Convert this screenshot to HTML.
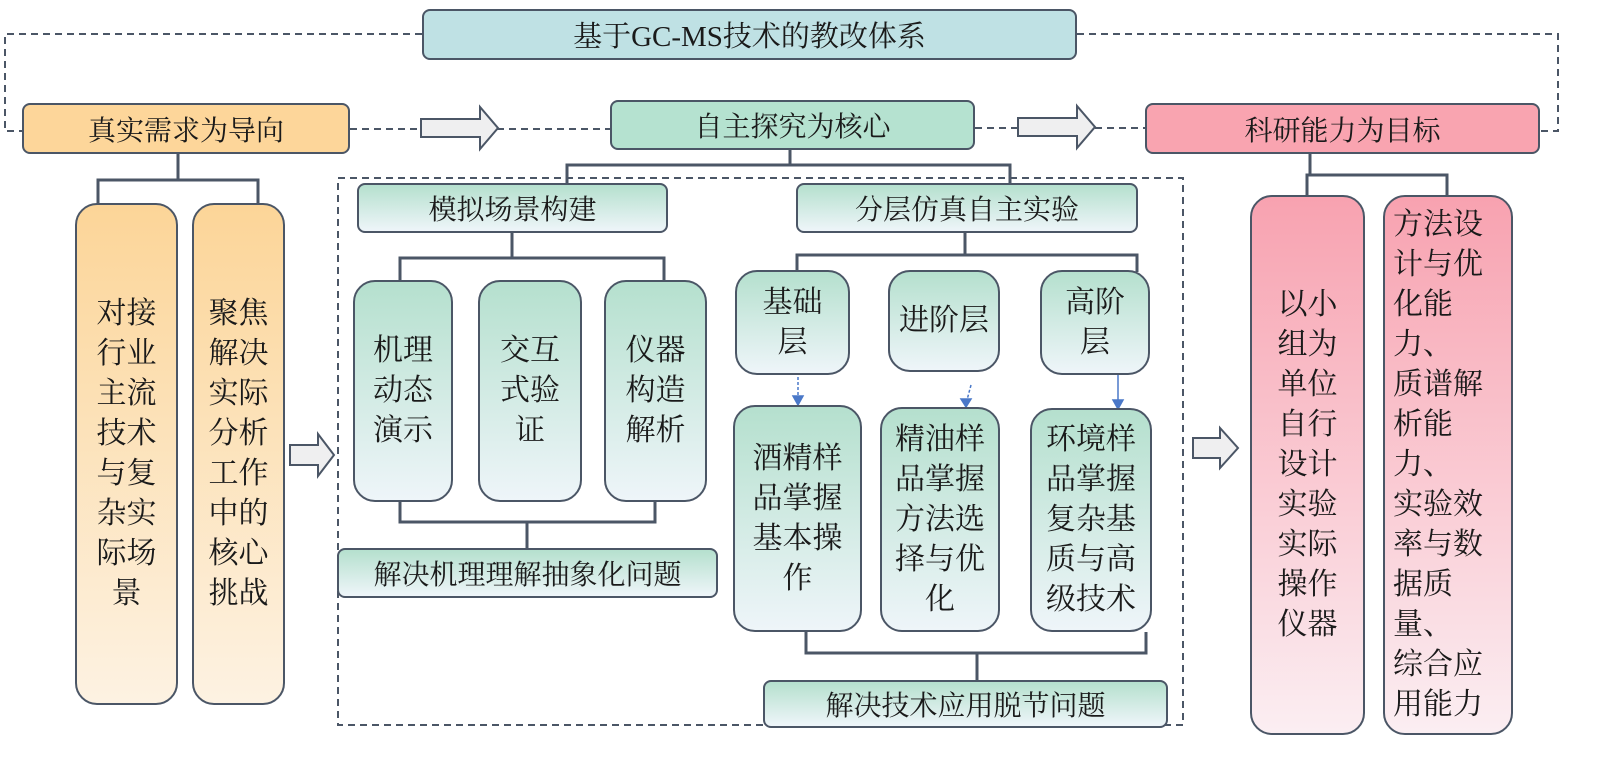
<!DOCTYPE html>
<html><head><meta charset="utf-8"><style>
body{margin:0;background:#fff;width:1600px;height:762px;position:relative;overflow:hidden;font-family:"Liberation Serif","Noto Serif CJK SC",serif;color:#1a1a1a}
.b{position:absolute;box-sizing:border-box;border:2px solid #4b5666;display:flex;align-items:center;justify-content:center;text-align:center}
.h{border-radius:8px;font-size:28px}
.t{border-radius:22px;font-size:30px;line-height:40px}
.o{background:linear-gradient(#fcd598,#fdf2e2)}
.g{background:linear-gradient(#b5e0ce,#eef5f9)}
.p{background:linear-gradient(#f8a2b0,#fbeef2)}
.oh{background:#fdd69a}.gh{background:#b5e2d0}.ph{background:#f9a4b0}
svg{position:absolute;left:0;top:0}
</style></head><body>
<svg width="1600" height="762">
<g fill="none" stroke="#4b5666" stroke-width="2" stroke-dasharray="7,5">
<polyline points="422,34 5,34 5,131 22,131"/>
<polyline points="1077,34 1558,34 1558,131 1540,131"/>
<line x1="350" y1="129" x2="420" y2="129"/><line x1="497" y1="129" x2="610" y2="129"/>
<line x1="975" y1="128" x2="1017" y2="128"/><line x1="1095" y1="128" x2="1145" y2="128"/>
<rect x="338" y="178" width="845" height="547"/>
</g>
<g fill="none" stroke="#4b5666" stroke-width="3">
<polyline points="178,153 178,180"/><polyline points="98,205 98,180 258,180 258,205"/>
<polyline points="790,150 790,165"/><polyline points="567,185 567,165 1010,165 1010,185"/>
<polyline points="512,233 512,258"/><polyline points="400,280 400,258 664,258 664,280"/>
<polyline points="400,502 400,522 655,522 655,502"/><line x1="527" y1="522" x2="527" y2="548"/>
<polyline points="965,233 965,255"/><polyline points="797,272 797,255 1137,255 1137,272"/>
<polyline points="806,632 806,653 1146,653 1146,632"/><line x1="977" y1="653" x2="977" y2="680"/>
<polyline points="1310,153 1310,175"/><polyline points="1307,195 1307,175 1447,175 1447,195"/>
</g>
<g stroke="#4a78c8" stroke-width="1.5" fill="#4a78c8">
<line x1="798" y1="377" x2="798" y2="397" stroke-dasharray="3,2"/><polygon points="793,396 803,396 798,405"/>
<line x1="971" y1="385" x2="967" y2="400" stroke-dasharray="3,2"/><polygon points="961,399 971,399 966,407"/>
<line x1="1118" y1="375" x2="1118" y2="400"/><polygon points="1113,400 1123,400 1118,409"/>
</g>
<g fill="#efeff0" stroke="#4b5666" stroke-width="2">
<polygon points="421,119 480,119 480,107 498,128 480,149 480,137 421,137"/>
<polygon points="1018,118 1077,118 1077,106 1095,127 1077,148 1077,136 1018,136"/>
<polygon points="290,445 318,445 318,434 334,455 318,476 318,465 290,465"/>
<polygon points="1193,438 1220,438 1220,428 1238,448 1220,468 1220,458 1193,458"/>
</g>
</svg>
<div class="b h" style="left:422px;top:9px;width:655px;height:51px;background:#bfe1e4;font-size:29px">基于GC-MS技术的教改体系</div>
<div class="b h oh" style="left:22px;top:103px;width:328px;height:51px">真实需求为导向</div>
<div class="b h gh" style="left:610px;top:100px;width:365px;height:50px">自主探究为核心</div>
<div class="b h ph" style="left:1145px;top:103px;width:395px;height:51px">科研能力为目标</div>
<div class="b t o" style="left:75px;top:203px;width:103px;height:502px">对接<br>行业<br>主流<br>技术<br>与复<br>杂实<br>际场<br>景</div>
<div class="b t o" style="left:192px;top:203px;width:93px;height:502px">聚焦<br>解决<br>实际<br>分析<br>工作<br>中的<br>核心<br>挑战</div>
<div class="b h g" style="left:357px;top:183px;width:311px;height:50px">模拟场景构建</div>
<div class="b h g" style="left:796px;top:183px;width:342px;height:50px">分层仿真自主实验</div>
<div class="b t g" style="left:353px;top:280px;width:100px;height:222px">机理<br>动态<br>演示</div>
<div class="b t g" style="left:478px;top:280px;width:104px;height:222px">交互<br>式验<br>证</div>
<div class="b t g" style="left:604px;top:280px;width:103px;height:222px">仪器<br>构造<br>解析</div>
<div class="b h g" style="left:337px;top:548px;width:381px;height:50px">解决机理理解抽象化问题</div>
<div class="b t g" style="left:735px;top:270px;width:115px;height:105px">基础<br>层</div>
<div class="b t g" style="left:888px;top:270px;width:112px;height:102px">进阶层</div>
<div class="b t g" style="left:1040px;top:270px;width:110px;height:105px">高阶<br>层</div>
<div class="b t g" style="left:733px;top:405px;width:129px;height:227px">酒精样<br>品掌握<br>基本操<br>作</div>
<div class="b t g" style="left:880px;top:407px;width:120px;height:225px">精油样<br>品掌握<br>方法选<br>择与优<br>化</div>
<div class="b t g" style="left:1030px;top:408px;width:122px;height:224px">环境样<br>品掌握<br>复杂基<br>质与高<br>级技术</div>
<div class="b h g" style="left:763px;top:680px;width:405px;height:48px">解决技术应用脱节问题</div>
<div class="b t p" style="left:1250px;top:195px;width:115px;height:540px">以小<br>组为<br>单位<br>自行<br>设计<br>实验<br>实际<br>操作<br>仪器</div>
<div class="b t p" style="left:1383px;top:195px;width:130px;height:540px;justify-content:flex-start;text-align:left;padding-left:8px">方法设<br>计与优<br>化能力、<br>质谱解<br>析能力、<br>实验效<br>率与数<br>据质量、<br>综合应<br>用能力</div>
</body></html>
